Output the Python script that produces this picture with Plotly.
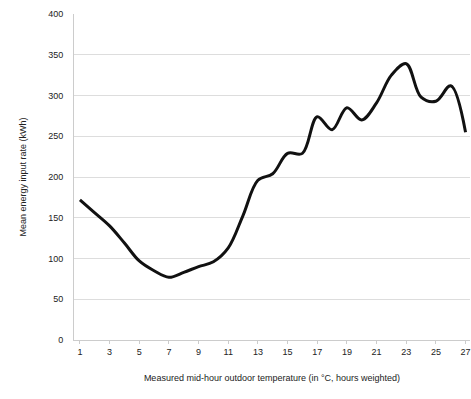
import plotly.graph_objects as go

temps = list(range(1, 28))
energy = [172, 156, 140, 119, 97, 85, 77, 83, 90, 96, 113, 153, 196, 204, 229, 229,
          274, 258, 285, 270, 291, 325, 339, 298, 293, 312, 255]
y_ticks = [0, 50, 100, 150, 200, 250, 300, 350, 400]
x_ticks = list(range(1, 28, 2))

fig = go.Figure()
fig.add_trace(go.Scatter(x=temps, y=energy, mode="lines",
                         line=dict(color="#111111", width=3, shape="spline", smoothing=1.0),
                         showlegend=False))

fig.update_layout(
    width=471, height=399,
    margin=dict(l=74, r=1, t=14, b=59),
    paper_bgcolor="white", plot_bgcolor="white",
    font=dict(family="Liberation Sans, Arial, sans-serif", size=9, color="#222222"),
    xaxis=dict(range=[0.6, 27.3], tickvals=x_ticks, ticktext=[str(v) for v in x_ticks],
               showgrid=False, showline=True, linecolor="#cccccc", ticks="outside",
               ticklen=3, tickcolor="#cccccc", zeroline=False,
               title=dict(text="Measured mid-hour outdoor temperature (in °C, hours weighted)",
                          font=dict(size=9), standoff=18)),
    yaxis=dict(range=[0, 400], tickvals=y_ticks, ticktext=[str(v) for v in y_ticks],
               showgrid=True, gridcolor="#dddddd", gridwidth=1,
               showline=True, linecolor="#cccccc", zeroline=False, ticks="", ticklabelstandoff=8,
               title=dict(text="Mean energy input rate (kWh)", font=dict(size=9), standoff=20)),
)

fig.write_html("out.html")
